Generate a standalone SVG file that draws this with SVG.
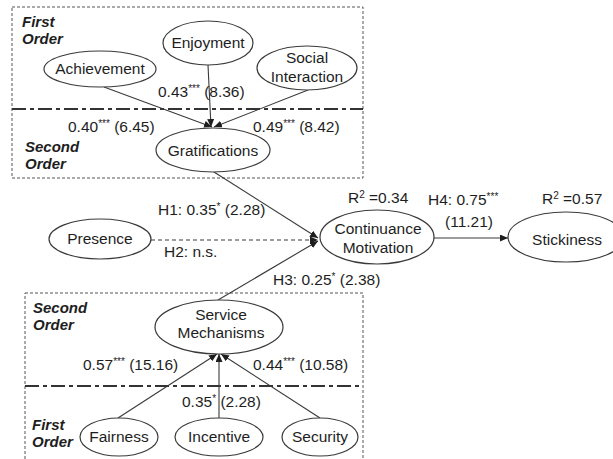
<svg xmlns="http://www.w3.org/2000/svg" width="613" height="459" viewBox="0 0 613 459">
<style>
text{font-family:"Liberation Sans",Arial,sans-serif;font-size:15.5px;fill:#1e1e1e}
.c{text-anchor:middle}
.h{font-weight:bold;font-style:italic;font-size:15px}
.sup{font-size:10px}
.node{fill:#fff;stroke:#3a3a3a;stroke-width:1.2}
.box{fill:none;stroke:#555;stroke-width:1;stroke-dasharray:3,2}
.div{stroke:#333;stroke-width:2;stroke-dasharray:14,4,4,4;fill:none}
.ln{stroke:#3a3a3a;stroke-width:1.1;fill:none;marker-end:url(#ah)}
.dash{stroke-dasharray:4,3}
</style>
<defs>
<marker id="ah" markerUnits="userSpaceOnUse" markerWidth="8" markerHeight="7" refX="8" refY="3.5" orient="auto">
<path d="M0,0 L8,3.5 L0,7 z" fill="#1e1e1e"/>
</marker>
</defs>
<rect width="613" height="459" fill="#fff"/>
<g id="frames">
<rect class="box" x="12" y="7" width="351" height="171"/>
<line class="div" x1="12" y1="109" x2="363" y2="109"/>
<rect class="box" x="25" y="293" width="338" height="175"/>
<line class="div" x1="25" y1="386" x2="363" y2="386"/>
<text class="h" x="22" y="27">First</text>
<text class="h" x="22" y="44">Order</text>
<text class="h" x="25" y="152">Second</text>
<text class="h" x="25" y="169">Order</text>
<text class="h" x="33" y="313">Second</text>
<text class="h" x="33" y="330">Order</text>
<text class="h" x="32" y="430">First</text>
<text class="h" x="32" y="447">Order</text>
</g>
<g id="connectors">
<line class="ln" x1="104" y1="87" x2="212" y2="127"/>
<line class="ln" x1="208" y1="65" x2="211" y2="127"/>
<line class="ln" x1="308" y1="90" x2="214" y2="127"/>
<line class="ln" x1="214" y1="172" x2="318" y2="238"/>
<line class="ln dash" x1="151" y1="240" x2="318" y2="240"/>
<line class="ln" x1="218" y1="300" x2="318" y2="241"/>
<line class="ln" x1="433" y1="238" x2="508" y2="238"/>
<line class="ln" x1="118" y1="418" x2="217" y2="354"/>
<line class="ln" x1="219" y1="418" x2="219" y2="354"/>
<line class="ln" x1="320" y1="418" x2="221" y2="354"/>
</g>
<g id="labels">
<text x="158" y="97">0.43<tspan class="sup" dy="-5">***</tspan><tspan dy="5"> (8.36)</tspan></text>
<text x="68" y="132">0.40<tspan class="sup" dy="-5">***</tspan><tspan dy="5"> (6.45)</tspan></text>
<text x="253" y="132">0.49<tspan class="sup" dy="-5">***</tspan><tspan dy="5"> (8.42)</tspan></text>
<text x="158" y="215">H1: 0.35<tspan class="sup" dy="-5">*</tspan><tspan dy="5"> (2.28)</tspan></text>
<text x="164" y="257">H2: n.s.</text>
<text x="273" y="285">H3: 0.25<tspan class="sup" dy="-5">*</tspan><tspan dy="5"> (2.38)</tspan></text>
<text x="348" y="203">R<tspan class="sup" dy="-5">2</tspan><tspan dy="5"> =0.34</tspan></text>
<text x="428" y="205">H4: 0.75<tspan class="sup" dy="-5">***</tspan></text>
<text x="445" y="227">(11.21)</text>
<text x="542" y="204">R<tspan class="sup" dy="-5">2</tspan><tspan dy="5"> =0.57</tspan></text>
<text x="83" y="370">0.57<tspan class="sup" dy="-5">***</tspan><tspan dy="5"> (15.16)</tspan></text>
<text x="253" y="370">0.44<tspan class="sup" dy="-5">***</tspan><tspan dy="5"> (10.58)</tspan></text>
<text x="182" y="407">0.35<tspan class="sup" dy="-5">*</tspan><tspan dy="5"> (2.28)</tspan></text>
</g>
<g id="achievement"><ellipse class="node" cx="100" cy="69" rx="56" ry="18"/><text class="c" x="100" y="74">Achievement</text></g>
<g id="enjoyment"><ellipse class="node" cx="208" cy="43" rx="45" ry="22"/><text class="c" x="208" y="48">Enjoyment</text></g>
<g id="social-interaction"><ellipse class="node" cx="307" cy="68" rx="50" ry="22"/><text class="c" x="307" y="63">Social</text><text class="c" x="307" y="82">Interaction</text></g>
<g id="gratifications"><ellipse class="node" cx="213" cy="150" rx="57" ry="22"/><text class="c" x="213" y="156">Gratifications</text></g>
<g id="presence"><ellipse class="node" cx="100" cy="239" rx="51" ry="20"/><text class="c" x="100" y="244">Presence</text></g>
<g id="continuance-motivation"><ellipse class="node" cx="377" cy="237" rx="57" ry="27"/><text class="c" x="378" y="234">Continuance</text><text class="c" x="378" y="253">Motivation</text></g>
<g id="stickiness"><ellipse class="node" cx="566" cy="237" rx="58" ry="25"/><text class="c" x="567" y="245">Stickiness</text></g>
<g id="service-mechanisms"><ellipse class="node" cx="219" cy="327" rx="64" ry="27"/><text class="c" x="221" y="320">Service</text><text class="c" x="221" y="338">Mechanisms</text></g>
<g id="fairness"><ellipse class="node" cx="119" cy="437" rx="39" ry="19"/><text class="c" x="119" y="442">Fairness</text></g>
<g id="incentive"><ellipse class="node" cx="219" cy="437" rx="44" ry="19"/><text class="c" x="219" y="442">Incentive</text></g>
<g id="security"><ellipse class="node" cx="320" cy="437" rx="38" ry="19"/><text class="c" x="320" y="442">Security</text></g>
</svg>
